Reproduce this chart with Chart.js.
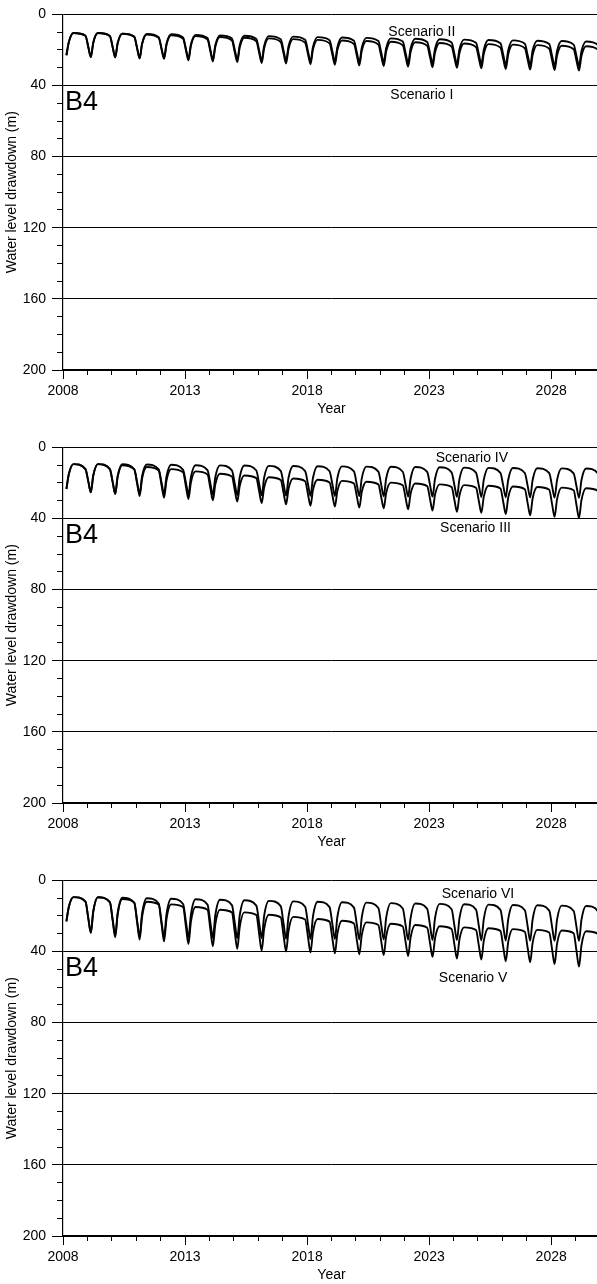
<!DOCTYPE html>
<html>
<head>
<meta charset="utf-8">
<script src="https://cdn.jsdelivr.net/npm/chart.js@4.4.1/dist/chart.umd.min.js"></script>
<style>
  html, body { margin: 0; padding: 0; background: #fff; overflow: hidden; }
  .panel { position: absolute; left: 0; width: 600px; height: 433px; }
</style>
</head>
<body>
<div class="panel" style="top:0px"><canvas id="c1" width="600" height="433"></canvas></div>
<div class="panel" style="top:433px"><canvas id="c2" width="600" height="433"></canvas></div>
<div class="panel" style="top:866px"><canvas id="c3" width="600" height="433"></canvas></div>
<script>
// Seasonal cycles: one row per year, five readings per row taken at
// the offsets below (pumping-season low, recovery, high, late season, drawdown onset).
const cycleYears = [2008, 2009, 2010, 2011, 2012, 2013, 2014, 2015, 2016, 2017, 2018,
                    2019, 2020, 2021, 2022, 2023, 2024, 2025, 2026, 2027, 2028, 2029];
const cycleOffsets = [0.14, 0.24, 0.43, 0.92, 1.04];

// Water level drawdown (m), well B4
const scenarioI = [
  23, 15.5, 10.5, 12, 18.6,
  24, 15.9, 10.5, 12.2, 18.8,
  24.2, 16.2, 10.9, 12.7, 19.4,
  24.8, 16.7, 11.3, 13.2, 19.7,
  25, 17.1, 11.8, 13.7, 20.4,
  25.8, 17.6, 12.2, 14.2, 21,
  26.5, 18.2, 12.7, 14.7, 21.4,
  26.8, 18.6, 13.1, 15.1, 21.8,
  27.3, 19, 13.5, 15.5, 22.2,
  27.6, 19.4, 13.9, 15.9, 22.6,
  28, 19.8, 14.3, 16.3, 22.9,
  28.3, 20.1, 14.7, 16.7, 23.3,
  28.7, 20.5, 15, 17, 23.6,
  29, 20.8, 15.4, 17.4, 24,
  29.4, 21.2, 15.7, 17.7, 24.3,
  29.7, 21.5, 16.1, 18.1, 24.7,
  30, 21.8, 16.4, 18.4, 25,
  30.3, 22.1, 16.7, 18.7, 25.3,
  30.7, 22.5, 17, 19, 25.6,
  31, 22.8, 17.3, 19.3, 25.9,
  31.3, 23.1, 17.6, 19.6, 26.2,
  31.6, 23.4, 17.9, 19.9, 26.5
];
const scenarioII = [
  23, 15.5, 10.5, 12, 18.6,
  24, 15.9, 10.5, 12.2, 18.7,
  24, 16.1, 10.8, 12.5, 19.1,
  24.5, 16.4, 11, 12.8, 19.3,
  24.5, 16.5, 11.2, 13, 19.6,
  25, 16.9, 11.5, 13.3, 20,
  25.5, 17.3, 11.8, 13.5, 20.1,
  25.5, 17.4, 12, 13.8, 20.5,
  26, 17.7, 12.2, 14, 20.6,
  26, 17.9, 12.5, 14.3, 21,
  26.5, 18.3, 12.8, 14.5, 21.1,
  26.5, 18.4, 13, 14.8, 21.5,
  27, 18.7, 13.2, 15, 21.6,
  27, 18.9, 13.5, 15.3, 22,
  27.5, 19.2, 13.7, 15.5, 22.1,
  27.5, 19.4, 14, 15.8, 22.5,
  28, 19.7, 14.2, 16, 22.6,
  28, 19.8, 14.4, 16.2, 23,
  28.5, 20.2, 14.6, 16.5, 23.1,
  28.5, 20.3, 14.8, 16.7, 23.5,
  29, 20.6, 15, 17, 23.6,
  29, 20.7, 15.2, 17.2, 23.7
];
const scenarioIII = [
  23.4, 15, 9.4, 12.2, 19.4,
  25.3, 15.8, 9.4, 12.2, 19.9,
  26.2, 16.5, 10, 12.4, 20.6,
  27.3, 17.5, 11, 13, 21.4,
  28.3, 18.6, 12.2, 14, 22.3,
  29, 19.7, 13.5, 15.2, 23.2,
  29.8, 20.8, 14.8, 16.4, 24.2,
  30.5, 21.7, 15.8, 17.3, 25,
  31.3, 22.6, 16.8, 18.3, 25.8,
  32, 23.3, 17.5, 19, 26.6,
  32.8, 24, 18.2, 19.7, 27.2,
  33.3, 24.6, 18.8, 20.3, 27.7,
  33.8, 25.1, 19.3, 20.8, 28.2,
  34.3, 25.6, 19.8, 21.3, 28.7,
  34.8, 26.1, 20.3, 21.8, 29.3,
  35.5, 26.7, 20.8, 22.3, 29.9,
  36.2, 27.2, 21.2, 22.7, 30.4,
  36.8, 27.7, 21.6, 23.1, 31,
  37.5, 28.2, 22, 23.5, 31.6,
  38.2, 28.7, 22.3, 23.8, 32.2,
  39, 29.2, 22.6, 24.1, 32.7,
  39.7, 29.7, 23, 24.5, 33
];
const scenarioIV = [
  23.4, 15, 9.4, 12.2, 19.4,
  25.3, 15.8, 9.4, 12.2, 19.8,
  26, 16.1, 9.5, 12.3, 19.8,
  26, 16.2, 9.6, 12.4, 20,
  26.2, 16.4, 9.8, 12.6, 20.2,
  26.4, 16.6, 10, 12.8, 20.4,
  26.6, 16.7, 10.1, 12.9, 20.5,
  26.8, 16.8, 10.2, 13, 20.7,
  27, 17, 10.4, 13.2, 20.8,
  27.1, 17.1, 10.5, 13.3, 20.9,
  27.2, 17.2, 10.6, 13.4, 21,
  27.3, 17.3, 10.7, 13.5, 21.1,
  27.4, 17.4, 10.8, 13.6, 21.2,
  27.5, 17.5, 10.9, 13.7, 21.3,
  27.6, 17.6, 11, 13.8, 21.4,
  27.7, 17.8, 11.2, 14, 21.6,
  27.8, 18, 11.4, 14.2, 21.7,
  27.9, 18.1, 11.5, 14.3, 21.8,
  28, 18.2, 11.6, 14.4, 21.9,
  28.1, 18.3, 11.7, 14.5, 22,
  28.2, 18.4, 11.8, 14.6, 22.1,
  28.3, 18.5, 11.9, 14.7, 22.2
];
const scenarioV = [
  23, 14.8, 9.4, 12, 21.6,
  29.5, 17.5, 9.5, 12.2, 23.1,
  32, 19.1, 10.5, 12.5, 23.9,
  33.3, 20.5, 12, 13.5, 24.9,
  34.3, 21.8, 13.5, 15, 26.4,
  35.8, 23.3, 15, 16.5, 27.8,
  37, 24.7, 16.5, 18, 29.3,
  38.5, 26.2, 18, 19.5, 30.5,
  39.5, 27.4, 19.3, 20.8, 31.4,
  40, 28.3, 20.5, 22, 32.2,
  40.5, 29.2, 21.7, 23.2, 33,
  41, 30, 22.7, 24.2, 33.7,
  41.5, 30.8, 23.6, 25.1, 34.4,
  42, 31.4, 24.4, 25.9, 35,
  42.5, 32.1, 25.1, 26.6, 35.6,
  43, 32.7, 25.8, 27.3, 36.5,
  44, 33.4, 26.4, 27.9, 37,
  44.5, 33.9, 26.9, 28.4, 37.8,
  45.5, 34.6, 27.4, 28.9, 38.3,
  46, 35.1, 27.8, 29.3, 39,
  47, 35.7, 28.2, 29.7, 40,
  48.5, 36.6, 28.6, 30.1, 40.5
];
const scenarioVI = [
  23, 14.8, 9.4, 12, 21.6,
  29.5, 17.5, 9.5, 12.2, 22.5,
  31, 18.3, 9.8, 12.6, 23,
  31.5, 18.6, 10, 13, 23.5,
  32, 19, 10.3, 13.3, 23.6,
  32, 19.2, 10.6, 13.6, 23.9,
  32.3, 19.5, 10.9, 13.9, 24.1,
  32.5, 19.7, 11.2, 14.2, 24.3,
  32.5, 19.9, 11.5, 14.5, 24.6,
  32.8, 20.2, 11.8, 14.8, 24.8,
  33, 20.4, 12, 15, 24.9,
  33, 20.6, 12.3, 15.3, 25.1,
  33.2, 20.8, 12.5, 15.5, 25.3,
  33.3, 21, 12.8, 15.8, 25.5,
  33.4, 21.2, 13, 16, 25.6,
  33.5, 21.3, 13.2, 16.2, 25.8,
  33.6, 21.5, 13.4, 16.4, 25.9,
  33.7, 21.6, 13.6, 16.6, 26.1,
  33.8, 21.8, 13.8, 16.8, 26.2,
  33.9, 22, 14, 17, 26.4,
  34, 22.1, 14.2, 17.2, 26.4,
  34, 22.2, 14.4, 17.4, 26.6
];

// Axis ticks
const xMajorTicks = [2008, 2013, 2018, 2023, 2028];
const xMinorTicks = [2008, 2009, 2010, 2011, 2012, 2013, 2014, 2015, 2016, 2017, 2018,
                     2019, 2020, 2021, 2022, 2023, 2024, 2025, 2026, 2027, 2028, 2029, 2030];
const yMajorTicks = [0, 40, 80, 120, 160, 200];
const yMinorTicks = [0, 10, 20, 30, 40, 50, 60, 70, 80, 90, 100, 110, 120, 130, 140,
                     150, 160, 170, 180, 190, 200];

const FONT = "'Liberation Sans', Arial, sans-serif";

function toPoints(values) {
  const pts = [];
  cycleYears.forEach((yr, i) => {
    cycleOffsets.forEach((off, j) => {
      pts.push({ x: yr + off, y: values[i * cycleOffsets.length + j] });
    });
  });
  return pts;
}

// Text annotations placed in data coordinates
const annotate = {
  id: 'annotate',
  afterDatasetsDraw(chart, args, opts) {
    const { ctx, scales: { x, y } } = chart;
    ctx.save();
    ctx.fillStyle = '#000';
    ctx.textBaseline = 'middle';
    (opts.items || []).forEach(it => {
      ctx.font = it.size + 'px ' + FONT;
      ctx.textAlign = it.align;
      ctx.fillText(it.text, x.getPixelForValue(it.x), y.getPixelForValue(it.y));
    });
    ctx.restore();
  }
};

function makeChart(id, deep, shallow, upperLabel, lowerLabel, upperPos, lowerPos) {
  const line = (label, values) => ({
    label,
    data: toPoints(values),
    borderColor: '#000',
    borderWidth: 1.9,
    pointRadius: 0,
    fill: false,
    cubicInterpolationMode: 'monotone'
  });
  return new Chart(document.getElementById(id), {
    type: 'line',
    data: { datasets: [line(lowerLabel, deep), line(upperLabel, shallow)] },
    options: {
      responsive: false,
      animation: false,
      events: [],
      layout: { padding: { top: 14, left: 0, right: 0, bottom: 0 } },
      plugins: {
        legend: { display: false },
        tooltip: { enabled: false },
        annotate: {
          items: [
            { text: 'B4', x: 2008.08, y: 49.5, size: 27, align: 'left' },
            { text: upperLabel, x: upperPos[0], y: upperPos[1], size: 14, align: 'center' },
            { text: lowerLabel, x: lowerPos[0], y: lowerPos[1], size: 14, align: 'center' }
          ]
        }
      },
      scales: {
        x: {
          type: 'linear', position: 'bottom', min: 2008, max: 2030, weight: 1,
          afterBuildTicks: s => { s.ticks = xMajorTicks.map(v => ({ value: v })); },
          afterFit: s => { s.height = 63; },
          ticks: { autoSkip: false, maxRotation: 0, padding: 4, color: '#000',
                   font: { family: FONT, size: 14 }, callback: v => String(v) },
          grid: { drawOnChartArea: false, tickLength: 9, color: '#000', lineWidth: 1 },
          border: { display: true, color: '#000', width: 1.2 },
          title: { display: true, text: 'Year', color: '#000',
                   font: { family: FONT, size: 14 }, padding: { top: 0, bottom: 15 } }
        },
        xMinor: {
          type: 'linear', position: 'bottom', min: 2008, max: 2030, weight: 0,
          afterBuildTicks: s => { s.ticks = xMinorTicks.map(v => ({ value: v })); },
          afterFit: s => { s.height = 0; },
          ticks: { display: false, autoSkip: false },
          grid: { drawOnChartArea: false, tickLength: 5, color: '#000', lineWidth: 1 },
          border: { display: false }
        },
        y: {
          type: 'linear', position: 'left', min: 0, max: 200, reverse: true, weight: 1,
          afterBuildTicks: s => { s.ticks = yMajorTicks.map(v => ({ value: v })); },
          afterFit: s => { s.width = 63; },
          ticks: { autoSkip: false, padding: 6, color: '#000',
                   font: { family: FONT, size: 14 }, callback: v => String(v) },
          grid: { drawOnChartArea: true, tickLength: 11, color: '#000', lineWidth: 1 },
          border: { display: true, color: '#000', width: 1.2 },
          title: { display: true, text: 'Water level drawdown (m)', color: '#000',
                   font: { family: FONT, size: 14 }, padding: { top: 4, bottom: 0 } }
        },
        yMinor: {
          type: 'linear', position: 'left', min: 0, max: 200, reverse: true, weight: 0,
          afterBuildTicks: s => { s.ticks = yMinorTicks.map(v => ({ value: v })); },
          afterFit: s => { s.width = 0; },
          ticks: { display: false, autoSkip: false },
          grid: { drawOnChartArea: false, tickLength: 6, color: '#000', lineWidth: 1 },
          border: { display: false }
        }
      }
    },
    plugins: [annotate]
  });
}

makeChart('c1', scenarioI, scenarioII, 'Scenario II', 'Scenario I', [2022.7, 10.1], [2022.7, 45.5]);
makeChart('c2', scenarioIII, scenarioIV, 'Scenario IV', 'Scenario III', [2024.75, 6.2], [2024.9, 45.2]);
makeChart('c3', scenarioV, scenarioVI, 'Scenario VI', 'Scenario V', [2025.0, 7.9], [2024.8, 54.8]);
</script>
</body>
</html>
